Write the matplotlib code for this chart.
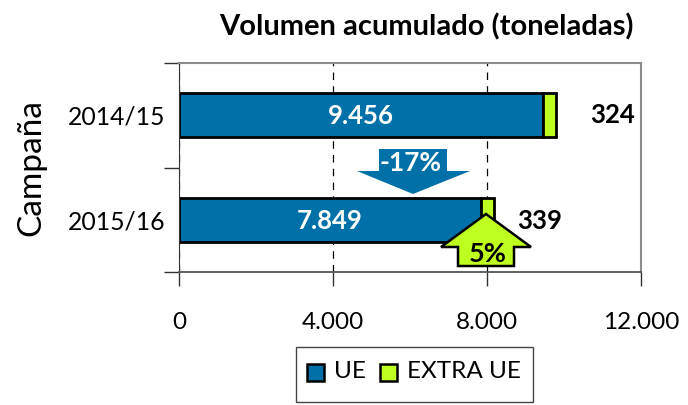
import matplotlib
matplotlib.use("Agg")
import matplotlib.pyplot as plt
from matplotlib.patches import Polygon, Rectangle
from matplotlib.ticker import FixedLocator

campaigns = ["2014/15", "2015/16"]
ue = [9456, 7849]
extra = [324, 339]
ue_labels = ["9.456", "7.849"]
extra_labels = ["324", "339"]
xticks = [0, 4000, 8000, 12000]
xticklabels = ["0", "4.000", "8.000", "12.000"]
series = ["UE", "EXTRA UE"]
colors = ["#0070A8", "#BFFF1F"]

W, H = 688, 405
plt.rcParams["font.family"] = ["Lato", "DejaVu Sans"]
fig = plt.figure(figsize=(W / 100, H / 100), dpi=100)
L, R, T, B = 179, 641, 63, 272
ax = fig.add_axes([L / W, 1 - B / H, (R - L) / W, (B - T) / H])
ax.set_xlim(0, 12000)
ax.set_ylim(1.5, -0.5)
ax.set_axisbelow(True)
ax.xaxis.grid(True, color="black", lw=0.9, ls=(0, (6, 5)))
y = [0, 1]
h = 0.42
ax.barh(y, ue, h, color=colors[0], edgecolor="black", lw=2)
ax.barh(y, extra, h, left=ue, color=colors[1], edgecolor="black", lw=2)

ax.set_xticks(xticks)
ax.set_xticklabels(xticklabels, fontsize=17.5)
ax.set_yticks(y)
ax.set_yticklabels(campaigns, fontsize=17.8)
ax.yaxis.set_minor_locator(FixedLocator([-0.5, 0.5, 1.5]))
ax.tick_params(axis="y", which="major", length=0, pad=10)
ax.tick_params(axis="y", which="minor", length=11, width=1, color="#333333")
ax.tick_params(axis="x", length=10, width=1, color="#333333", pad=19)
ax.spines["top"].set_color("#8c8c8c")
ax.spines["top"].set_linewidth(1.5)
ax.spines["right"].set_color("#8c8c8c")
ax.spines["right"].set_linewidth(1.5)
ax.spines["left"].set_color("#333333")
ax.spines["bottom"].set_color("#555555")
ax.spines["bottom"].set_linewidth(1.3)

ax.set_ylabel("Campaña", fontsize=24, labelpad=0)
ax.yaxis.set_label_coords((46 - L) / (R - L), 0.5)
fig.text(426 / W, 1 - 27 / H, "Volumen acumulado (toneladas)", fontsize=21,
         fontweight="bold", ha="center", va="center")

for yi, u, lab in zip(y, ue, ue_labels):
    ax.text(u * 0.5, yi + 0.01, lab, color="white", fontsize=18.5,
            fontweight="bold", ha="center", va="center")
fig.text(613 / W, 1 - 115 / H, extra_labels[0], fontsize=18.5, fontweight="bold", ha="center", va="center")
fig.text(540 / W, 1 - 221 / H, extra_labels[1], fontsize=18.5, fontweight="bold", ha="center", va="center")


def px(points):
    return [(a / W, 1 - b / H) for a, b in points]


fig.add_artist(Polygon(px([(379, 149), (447, 149), (447, 171), (470, 171), (413, 194), (357, 171), (379, 171)]),
                       closed=True, transform=fig.transFigure, fc=colors[0], ec="none", zorder=5))
fig.text(411 / W, 1 - 163 / H, "-17%", color="white", fontsize=19, fontweight="bold",
         ha="center", va="center", zorder=6)
fig.add_artist(Polygon(px([(486, 214), (531, 247), (514, 247), (514, 266), (458, 266), (458, 247), (441, 247)]),
                       closed=True, transform=fig.transFigure, fc=colors[1], ec="black", lw=1.8, zorder=5))
fig.text(488 / W, 1 - 254 / H, "5%", color="black", fontsize=19.5, fontweight="bold",
         ha="center", va="center", zorder=6)

# Legend
fig.add_artist(Rectangle((296 / W, 1 - 402 / H), 237 / W, 55 / H, transform=fig.transFigure,
                         fc="white", ec="#444444", lw=1))
for x0, xt, c, s in [(307, 334, colors[0], series[0]), (380, 407, colors[1], series[1])]:
    fig.add_artist(Rectangle((x0 / W, 1 - 381 / H), 17 / W, 17 / H, transform=fig.transFigure,
                             fc=c, ec="black", lw=1.8))
    fig.text(xt / W, 1 - 371 / H, s, fontsize=17.5, ha="left", va="center")

fig.savefig("out.png", dpi=100)
